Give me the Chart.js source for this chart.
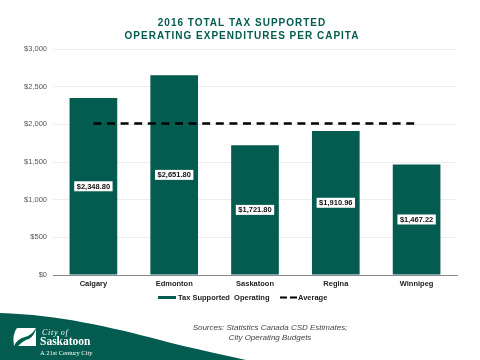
<!DOCTYPE html>
<html><head><meta charset="utf-8">
<style>html,body{margin:0;padding:0;background:#fff}#w{width:480px;height:360px;position:relative}canvas{display:block}</style>
<script src="https://cdn.jsdelivr.net/npm/chart.js@4"></script>
</head><body><div id="w"><canvas id="c" width="480" height="360"></canvas></div>
<script>
const categories=['Calgary','Edmonton','Saskatoon','Regina','Winnipeg'];
const taxSupported=[2348.80,2651.80,1721.80,1910.96,1467.22];
const average=[2012,2012,2012,2012,2012];
const titleLines=['2016 TOTAL TAX SUPPORTED','OPERATING EXPENDITURES PER CAPITA'];
const sourceLines=['Sources: Statistics Canada CSD Estimates;','City Operating Budgets'];
const GREEN='#035c4f';
const F='"Liberation Sans",Arial,sans-serif';
const fmtMoney=v=>'$'+v.toLocaleString('en-US',{minimumFractionDigits:2,maximumFractionDigits:2});
const deco={id:'deco',
 beforeDraw(ch){const x=ch.ctx;x.save();
  x.fillStyle='#fff';x.fillRect(0,0,480,360);
  x.fillStyle=GREEN;x.textAlign='center';x.textBaseline='middle';x.font='bold 10px '+F;x.letterSpacing='1px';
  x.fillText(titleLines[0],242,23);x.fillText(titleLines[1],242,36);x.letterSpacing='0px';
  x.fillStyle=GREEN;x.beginPath();x.moveTo(0,313);x.bezierCurveTo(60,315,110,327,160,340);x.bezierCurveTo(190,348,220,354,246,360);x.lineTo(0,360);x.closePath();x.fill();
  x.fillStyle='#fff';x.beginPath();x.moveTo(17,328);x.lineTo(36,328);x.quadraticCurveTo(31,336,25,337);x.quadraticCurveTo(17,339,14,346);x.quadraticCurveTo(12,334,17,328);x.fill();
  x.beginPath();x.moveTo(36,329);x.lineTo(36,346);x.lineTo(18,346);x.quadraticCurveTo(24,340,29,339);x.quadraticCurveTo(34,336,36,329);x.fill();
  x.textAlign='left';x.font='italic 8px "Liberation Serif",serif';x.letterSpacing='0.7px';x.fillText('City of',42,333);x.letterSpacing='0px';
  x.font='bold 11.5px "Liberation Serif",serif';x.fillText('Saskatoon',40,342);
  x.font='6.5px "Liberation Serif",serif';x.fillText('A 21st Century City',40,353);
  x.fillStyle='#444';x.textAlign='center';x.font='italic 8px '+F;
  x.fillText(sourceLines[0],270,328);x.fillText(sourceLines[1],270,337.5);
  x.restore();},
 afterDatasetsDraw(ch){const x=ch.ctx;const bars=ch.getDatasetMeta(1).data;x.save();x.font='bold 7.5px '+F;x.textAlign='center';x.textBaseline='middle';
  bars.forEach((b,i)=>{const t=fmtMoney(taxSupported[i]);const w=x.measureText(t).width+5;const cy=(b.y+b.base)/2;
   x.fillStyle='#fff';x.fillRect(b.x-w/2,cy-5,w,10);x.fillStyle='#111';x.fillText(t,b.x,cy+.5);});
  const [lineSet,barSet]=ch.data.datasets;
  x.fillStyle=barSet.backgroundColor;x.fillRect(158,296,18,3);
  x.fillStyle='#222';x.textAlign='left';x.font='bold 7.5px '+F;
  x.fillText(barSet.label,178,297.5);
  x.strokeStyle=lineSet.borderColor;x.lineWidth=2;x.setLineDash([7,3]);x.beginPath();x.moveTo(280,297.5);x.lineTo(297,297.5);x.stroke();x.setLineDash([]);
  x.fillText(lineSet.label,298,297.5);
  x.restore();}
};
new Chart(document.getElementById('c'),{
 data:{labels:categories,datasets:[
  {type:'line',label:'Average',data:average,borderColor:'#000',backgroundColor:'#000',borderWidth:2.5,borderDash:[8,5.6],pointRadius:0,order:0,tension:0},
  {type:'bar',label:'Tax Supported  Operating',data:taxSupported,backgroundColor:GREEN,borderWidth:0,barPercentage:.59,categoryPercentage:1,order:1}
 ]},
 plugins:[deco],
 options:{responsive:false,animation:false,
  layout:{padding:{left:0,right:23,top:49,bottom:70}},
  plugins:{legend:{display:false},tooltip:{enabled:false},title:{display:false}},
  scales:{
   x:{afterFit(a){a.height=15},grid:{display:false,drawTicks:false},border:{color:'#8a8a8a'},ticks:{font:{family:F,size:7.5,weight:'bold'},color:'#222',padding:4}},
   y:{min:0,max:3000,afterFit(a){a.width=53},border:{display:false},grid:{color:'#ececec',drawTicks:false,lineWidth:1},ticks:{stepSize:500,font:{family:F,size:7.5},color:'#555',padding:6,callback:v=>'$'+v.toLocaleString('en-US')}}
  }}
});
</script></body></html>
